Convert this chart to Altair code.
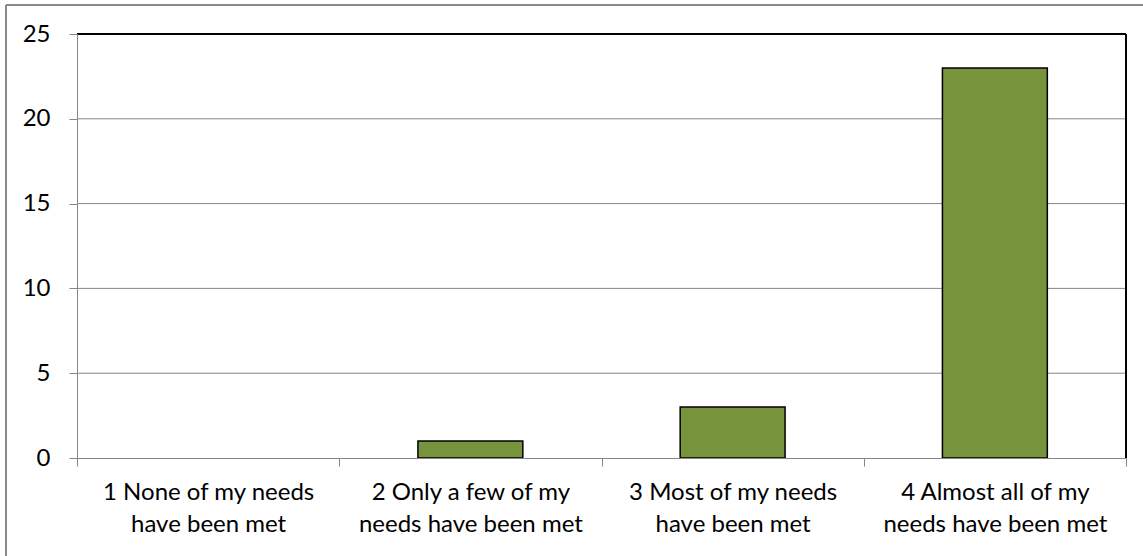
import json
import altair as alt
import pandas as pd

# Survey responses: how many respondents chose each level
line1 = ["1 None of my needs", "2 Only a few of my", "3 Most of my needs", "4 Almost all of my"]
line2 = ["have been met", "needs have been met", "have been met", "needs have been met"]
counts = [0, 1, 3, 23]
y_ticks = [0, 5, 10, 15, 20, 25]

categories = [a + " " + b for a, b in zip(line1, line2)]
bars_df = pd.DataFrame({"answer": categories, "count": counts})
grid_df = pd.DataFrame({"v": [t for t in y_ticks if 0 < t < 25]})

W, H = 1049, 424
FONT = "Lato"
FS = 24
GRAY = "#868686"

# two-line tick labels
label_map = {c: [a, b] for c, a, b in zip(categories, line1, line2)}
label_expr = json.dumps(label_map) + "[datum.value]"

x_enc = alt.X(
    "answer:N",
    sort=categories,
    scale=alt.Scale(domain=categories, paddingInner=0, paddingOuter=0),
    axis=alt.Axis(
        title=None, labelAngle=0, labelExpr=label_expr, tickBand="extent",
        domainColor=GRAY, tickColor=GRAY, tickSize=8, labelPadding=14,
        labelFont=FONT, labelFontSize=FS, labelColor="black", labelLimit=0,
        labelLineHeight=32, labelBaseline="top", zindex=1,
    ),
)
y_scale = alt.Scale(domain=[0, 25], nice=False)
y_axis = alt.Axis(
    title=None, values=y_ticks, grid=False, domainColor=GRAY, tickColor=GRAY,
    tickSize=8, labelPadding=19, labelFont=FONT, labelFontSize=FS,
    labelColor="black", zindex=1,
)

grid = alt.Chart(grid_df).mark_rule(color=GRAY, strokeWidth=1).encode(
    y=alt.Y("v:Q", scale=y_scale, axis=y_axis)
)

bars = alt.Chart(bars_df).mark_bar(
    color="#77933C", strokeWidth=1.5, width=alt.RelativeBandSize(0.4)
).encode(
    x=x_enc,
    y=alt.Y("count:Q", scale=y_scale, axis=y_axis),
    stroke=alt.condition("datum.count > 0", alt.value("black"), alt.value("transparent")),
)

# black frame on the top and right of the plot area
frame_top = alt.Chart(bars_df).mark_rule(color="black", strokeWidth=1.5).encode(
    x=alt.value(0), x2=alt.value(W), y=alt.value(0)
)
frame_right = alt.Chart(bars_df).mark_rule(color="black", strokeWidth=1.5).encode(
    x=alt.value(W), y=alt.value(0), y2=alt.value(H)
)

# outer chart border (left and top)
border_left = alt.Chart(bars_df).mark_rule(color="#8a8a8a", strokeWidth=2).encode(
    x=alt.value(-71), y=alt.value(-29), y2=alt.value(556 - 34)
)
border_top = alt.Chart(bars_df).mark_rule(color="#8a8a8a", strokeWidth=2).encode(
    x=alt.value(-71), x2=alt.value(1143 - 77), y=alt.value(-29)
)

chart = (
    alt.layer(grid, bars, frame_top, frame_right, border_left, border_top)
    .properties(
        width=W, height=H,
        padding={"left": 77, "top": 34, "right": 17, "bottom": 98},
        autosize=alt.AutoSizeParams(type="none"),
        background="white",
    )
    .configure_view(stroke=None)
)

chart.save("out.html", embed_options={"renderer": "svg", "actions": False})
